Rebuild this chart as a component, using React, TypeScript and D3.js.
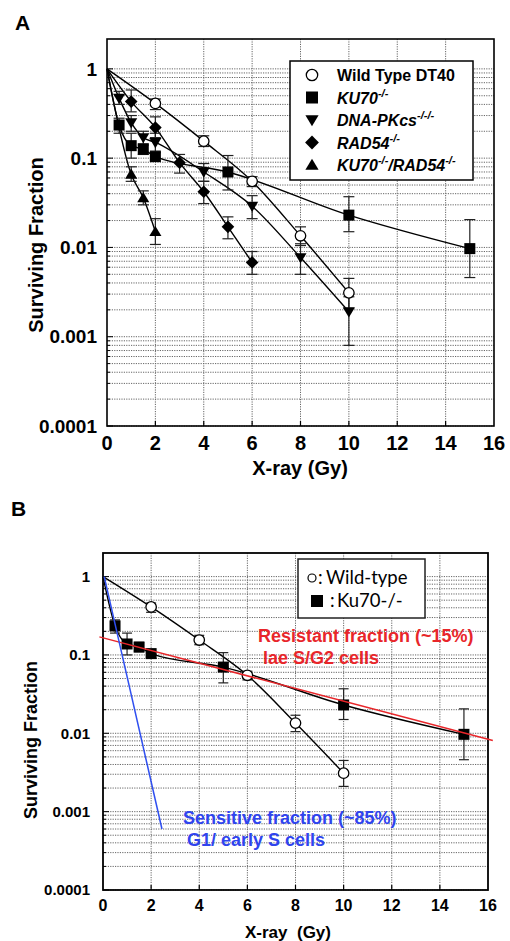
import React from "react";
import * as d3 from "d3";

// ---------- DATA ----------
const doseWT = [0, 2, 4, 6, 8, 10];
const sfWT = [1, 0.41, 0.155, 0.055, 0.0135, 0.0031];
const loWT = [NaN, 0.35, 0.135, 0.048, 0.0105, 0.0021];
const hiWT = [NaN, 0.46, 0.178, 0.062, 0.017, 0.0045];

const doseKU = [0, 0.5, 1, 1.5, 2, 5, 10, 15];
const sfKU = [1, 0.235, 0.138, 0.126, 0.104, 0.07, 0.023, 0.0097];
const loKU = [NaN, 0.19, 0.1, 0.11, 0.093, 0.044, 0.015, 0.0046];
const hiKU = [NaN, 0.28, 0.19, 0.145, 0.115, 0.107, 0.037, 0.0205];

const doseDNA = [0, 0.5, 1, 1.5, 2, 4, 6, 8, 10];
const sfDNA = [1, 0.47, 0.25, 0.17, 0.15, 0.07, 0.029, 0.0077, 0.0019];
const loDNA = [NaN, 0.4, 0.2, 0.14, 0.12, 0.055, 0.021, 0.005, 0.0008];
const hiDNA = [NaN, 0.56, 0.3, 0.2, 0.19, 0.087, 0.038, 0.011, 0.0028];

const doseRAD = [0, 1, 2, 3, 4, 5, 6];
const sfRAD = [1, 0.43, 0.22, 0.089, 0.042, 0.017, 0.0068];
const loRAD = [NaN, 0.33, 0.17, 0.068, 0.031, 0.0125, 0.005];
const hiRAD = [NaN, 0.58, 0.29, 0.11, 0.055, 0.022, 0.009];

const doseDBL = [0, 1, 1.5, 2];
const sfDBL = [1, 0.066, 0.036, 0.015];
const loDBL = [NaN, 0.055, 0.03, 0.0108];
const hiDBL = [NaN, 0.08, 0.043, 0.021];

const resistDose = [-0.15, 16.2];
const resistSF = [0.17, 0.0081];
const sensDose = [0.05, 2.45];
const sensSF = [1, 0.0006];

const xTicks = [0, 2, 4, 6, 8, 10, 12, 14, 16];
const yTicks = [1, 0.1, 0.01, 0.001, 0.0001];
const yTickLabels = ["1", "0.1", "0.01", "0.001", "0.0001"];

const FONT = "'Liberation Sans', Arial, Helvetica, sans-serif";

type Series = {
  dose: number[];
  sf: number[];
  lo: number[];
  hi: number[];
  marker: string;
};

const seriesA: Series[] = [
  { dose: doseWT, sf: sfWT, lo: loWT, hi: hiWT, marker: "circle" },
  { dose: doseKU, sf: sfKU, lo: loKU, hi: hiKU, marker: "square" },
  { dose: doseDNA, sf: sfDNA, lo: loDNA, hi: hiDNA, marker: "down" },
  { dose: doseRAD, sf: sfRAD, lo: loRAD, hi: hiRAD, marker: "diamond" },
  { dose: doseDBL, sf: sfDBL, lo: loDBL, hi: hiDBL, marker: "up" },
];
const seriesB: Series[] = [
  { dose: doseWT, sf: sfWT, lo: loWT, hi: hiWT, marker: "circle" },
  { dose: doseKU, sf: sfKU, lo: loKU, hi: hiKU, marker: "square" },
];

function Marker({ type, x, y, s }: { type: string; x: number; y: number; s: number }) {
  const h = s / 2;
  if (type === "circle")
    return <circle cx={x} cy={y} r={h * 0.95} fill="white" stroke="black" strokeWidth={1.3} />;
  if (type === "square")
    return <rect x={x - h} y={y - h} width={s} height={s} fill="black" />;
  if (type === "down")
    return <path d={`M${x - h * 1.1},${y - h * 0.8}L${x + h * 1.1},${y - h * 0.8}L${x},${y + h * 1.05}Z`} fill="black" />;
  if (type === "up")
    return <path d={`M${x - h * 1.1},${y + h * 0.8}L${x + h * 1.1},${y + h * 0.8}L${x},${y - h * 1.05}Z`} fill="black" />;
  const d = h * 1.15;
  return <path d={`M${x},${y - d}L${x + d},${y}L${x},${y + d}L${x - d},${y}Z`} fill="black" />;
}

function Frame({
  x, y, tickFont, tickX, tickYoff, lineW,
}: {
  x: d3.ScaleLinear<number, number>;
  y: d3.ScaleLogarithmic<number, number>;
  tickFont: number;
  tickX: number;
  tickYoff: number;
  lineW: number;
}) {
  const [x0, x1] = x.range();
  const [yb, yt] = y.range();
  const minors: number[] = [];
  for (let e = -4; e < 0; e++) for (let k = 1; k <= 9; k++) minors.push(k * Math.pow(10, e));
  minors.push(1);
  return (
    <g>
      {minors.map((v, i) => (
        <line key={"h" + i} x1={x0} x2={x1} y1={y(v)} y2={y(v)} stroke="#666" strokeWidth={1} strokeDasharray="1.2,1.2" />
      ))}
      {xTicks.slice(1, -1).map((v) => (
        <line key={"v" + v} x1={x(v)} x2={x(v)} y1={yt} y2={yb} stroke="#666" strokeWidth={1} strokeDasharray="1.2,1.2" />
      ))}
      {minors.map((v, i) => (
        <line key={"t" + i} x1={x0} x2={x0 + (Math.abs(Math.log10(v) - Math.round(Math.log10(v))) < 1e-6 ? 6 : 3)} y1={y(v)} y2={y(v)} stroke="black" strokeWidth={1} />
      ))}
      {xTicks.slice(1, -1).map((v) => (
        <line key={"xt" + v} x1={x(v)} x2={x(v)} y1={yb} y2={yb - 5} stroke="black" strokeWidth={1.2} />
      ))}
      <rect x={x0} y={yt} width={x1 - x0} height={yb - yt} fill="none" stroke="black" strokeWidth={lineW} />
      {yTicks.map((v, i) => (
        <text key={"yl" + i} x={tickX} y={y(v)} dy="0.35em" textAnchor="end" fontFamily={FONT} fontWeight="bold" fontSize={tickFont}>
          {yTickLabels[i]}
        </text>
      ))}
      {xTicks.map((v) => (
        <text key={"xl" + v} x={x(v)} y={yb + tickYoff} dy="0.35em" textAnchor="middle" fontFamily={FONT} fontWeight="bold" fontSize={tickFont + 1}>
          {v}
        </text>
      ))}
    </g>
  );
}

function DataLayer({
  series, x, y, size, capW,
}: {
  series: Series[];
  x: d3.ScaleLinear<number, number>;
  y: d3.ScaleLogarithmic<number, number>;
  size: number;
  capW: number;
}) {
  return (
    <g>
      {series.map((s, si) => {
        const pts: [number, number][] = s.dose.map((d, i) => [x(d), y(s.sf[i])]);
        const path = d3.line().curve(d3.curveMonotoneX)(pts) || "";
        return <path key={"l" + si} d={path} fill="none" stroke="black" strokeWidth={1.4} />;
      })}
      {series.map((s, si) =>
        s.dose.map((d, i) =>
          isNaN(s.lo[i]) ? null : (
            <g key={"e" + si + "-" + i} stroke="#222" strokeWidth={1.2}>
              <line x1={x(d)} x2={x(d)} y1={y(s.lo[i])} y2={y(s.hi[i])} />
              <line x1={x(d) - capW / 2} x2={x(d) + capW / 2} y1={y(s.lo[i])} y2={y(s.lo[i])} />
              <line x1={x(d) - capW / 2} x2={x(d) + capW / 2} y1={y(s.hi[i])} y2={y(s.hi[i])} />
            </g>
          )
        )
      )}
      {series.map((s, si) =>
        s.dose.map((d, i) =>
          i === 0 ? null : <Marker key={"m" + si + "-" + i} type={s.marker} x={x(d)} y={y(s.sf[i])} s={size} />
        )
      )}
    </g>
  );
}

export default function App() {
  const xA = d3.scaleLinear().domain([0, 16]).range([107, 494]);
  const yA = d3.scaleLog().domain([0.0001, 2.16]).range([426, 39]);
  const xB = d3.scaleLinear().domain([0, 16]).range([103, 488]);
  const yB = d3.scaleLog().domain([0.0001, 2]).range([890, 553]);

  const legendA = ["circle", "square", "down", "diamond", "up"];

  const sup = (t: string) => (
    <tspan dy={-7} fontSize={11}>
      {t}
    </tspan>
  );

  const redPath = d3.line()(resistDose.map((d, i) => [xB(d), yB(resistSF[i])] as [number, number])) || "";
  const bluePath = d3.line()(sensDose.map((d, i) => [xB(d), yB(sensSF[i])] as [number, number])) || "";

  return (
    <svg width={510} height={941} style={{ position: "absolute", left: 0, top: 0, background: "white" }}>
      <rect width={510} height={941} fill="white" />
      {/* ---------- Panel A ---------- */}
      <text x={15} y={30} fontFamily={FONT} fontWeight="bold" fontSize={21}>A</text>
      <Frame x={xA} y={yA} tickFont={19} tickX={97} tickYoff={17} lineW={1.6} />
      <DataLayer series={seriesA} x={xA} y={yA} size={11} capW={11} />
      <text x={300} y={475} textAnchor="middle" fontFamily={FONT} fontWeight="bold" fontSize={20}>X-ray (Gy)</text>
      <text transform="translate(43,245) rotate(-90)" textAnchor="middle" fontFamily={FONT} fontWeight="bold" fontSize={20}>Surviving Fraction</text>
      <g>
        <rect x={290} y={61} width={183} height={119} fill="white" stroke="black" strokeWidth={1.5} />
        {legendA.map((m, i) => {
          const cy = 75 + i * 22.5;
          return (
            <g key={"lg" + i}>
              <Marker type={m} x={312} y={cy} s={12} />
              <text x={337} y={cy + 6} fontFamily={FONT} fontWeight="bold" fontSize={16} fontStyle={i === 0 ? "normal" : "italic"}>
                {i === 0 && "Wild Type DT40"}
                {i === 1 && (<>KU70{sup("-/-")}</>)}
                {i === 2 && (<>DNA-PKcs{sup("-/-/-")}</>)}
                {i === 3 && (<>RAD54{sup("-/-")}</>)}
                {i === 4 && (
                  <>
                    KU70{sup("-/-")}
                    <tspan dy={7}>/RAD54</tspan>
                    {sup("-/-")}
                  </>
                )}
              </text>
            </g>
          );
        })}
      </g>

      {/* ---------- Panel B ---------- */}
      <text x={11} y={516} fontFamily={FONT} fontWeight="bold" fontSize={21}>B</text>
      <Frame x={xB} y={yB} tickFont={15} tickX={90} tickYoff={15} lineW={1.8} />
      <DataLayer series={seriesB} x={xB} y={yB} size={11} capW={10} />
      <path d={redPath} stroke="#e8262a" strokeWidth={1.5} fill="none" />
      <path d={bluePath} stroke="#2f4ff0" strokeWidth={1.5} fill="none" />
      <text x={288} y={938} textAnchor="middle" fontFamily={FONT} fontWeight="bold" fontSize={17} style={{ whiteSpace: "pre" }}>X-ray  (Gy)</text>
      <text transform="translate(37,740) rotate(-90)" textAnchor="middle" fontFamily={FONT} fontWeight="bold" fontSize={18}>Surviving Fraction</text>
      <g>
        <rect x={298} y={559} width={127} height={59} fill="white" stroke="#222" strokeWidth={1.5} />
        <circle cx={312} cy={578} r={4} fill="white" stroke="black" strokeWidth={1.2} />
        <text y={584} fontFamily="Lato, 'Open Sans', sans-serif" fontSize={18.5}>
          <tspan x={318}>:</tspan>
          <tspan x={326}>Wild-type</tspan>
        </text>
        <rect x={311} y={595} width={12} height={12} fill="black" />
        <text y={607} fontFamily="Lato, 'Open Sans', sans-serif" fontSize={18.5}>
          <tspan x={330}>:</tspan>
          <tspan x={337}>Ku70-/-</tspan>
        </text>
      </g>
      <text fontFamily={FONT} fontWeight="bold" fontSize={18} fill="#e8262a">
        <tspan x={258} y={642}>Resistant fraction (~15%)</tspan>
        <tspan x={263} y={664}>lae S/G2 cells</tspan>
      </text>
      <text fontFamily={FONT} fontWeight="bold" fontSize={18} fill="#2f44ee">
        <tspan x={183} y={824}>Sensitive fraction (~85%)</tspan>
        <tspan x={187} y={846}>G1/ early S cells</tspan>
      </text>
    </svg>
  );
}
